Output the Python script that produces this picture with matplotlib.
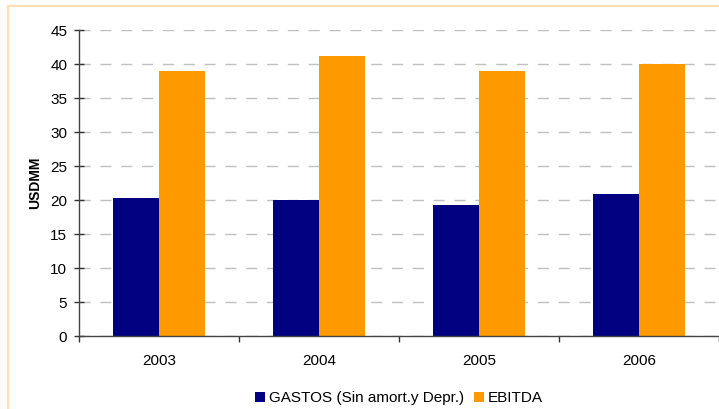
import matplotlib
matplotlib.use("Agg")
import matplotlib.pyplot as plt
from matplotlib.patches import Rectangle
import numpy as np

plt.rcParams['font.family'] = ['Liberation Sans', 'DejaVu Sans']

years = ["2003", "2004", "2005", "2006"]
gastos = [20.3, 20.0, 19.3, 20.9]
ebitda = [39.0, 41.2, 39.0, 40.0]
series_labels = ["GASTOS (Sin amort.y Depr.)", "EBITDA"]
y_ticks = [0, 5, 10, 15, 20, 25, 30, 35, 40, 45]

navy = "#000080"
orange = "#FF9900"
fs = 11

fig = plt.figure(figsize=(7.19, 4.09), dpi=100)
fig.patch.set_facecolor("white")

# light orange chart-area frame
fig.patches.append(Rectangle((8 / 719, -0.05), 1.1, 1 - 5.5 / 409 + 0.05,
                             transform=fig.transFigure, fill=False,
                             edgecolor="#FFDDB5", linewidth=1.5))

ax = fig.add_axes([79 / 719, 1 - 336 / 409, 640 / 719, 306 / 409])

x = np.arange(len(years))
w = 0.2875
b1 = ax.bar(x - w / 2, gastos, width=w, color=navy, label=series_labels[0], zorder=3)
b2 = ax.bar(x + w / 2, ebitda, width=w, color=orange, label=series_labels[1], zorder=3)

ax.set_xlim(-0.5, len(years) - 0.5)
ax.set_ylim(0, 45)
ax.set_yticks(y_ticks)
ax.set_yticklabels([str(v) for v in y_ticks], fontsize=fs)
ax.set_xticks(x)
ax.set_xticklabels(years, fontsize=fs)
ax.set_xticks(np.arange(-0.5, len(years)), minor=True)
ax.tick_params(axis="x", which="major", length=0, pad=13)
ax.tick_params(axis="x", which="minor", length=4, direction="out", color="#333333", width=1)
ax.tick_params(axis="y", which="major", length=7, direction="inout", color="#333333", width=1, pad=5)

ax.yaxis.grid(True, linestyle=(0, (8, 7)), color="#C0C0C0", linewidth=1, zorder=0)
ax.set_axisbelow(True)

for s in ["top", "right"]:
    ax.spines[s].set_visible(False)
for s in ["left", "bottom"]:
    ax.spines[s].set_color("#444444")
    ax.spines[s].set_linewidth(1)
    ax.spines[s].set_zorder(4)

ax.set_ylabel("USDMM", fontsize=10, fontweight="bold", labelpad=6)

fig.legend(handles=[b1, b2], labels=series_labels, loc="center",
           bbox_to_anchor=(399 / 719, 1 - 398 / 409), ncol=2, frameon=False,
           fontsize=fs, handlelength=0.65, handleheight=0.65, handletextpad=0.3,
           columnspacing=0.6, borderaxespad=0)

fig.savefig("out.png", dpi=100)
